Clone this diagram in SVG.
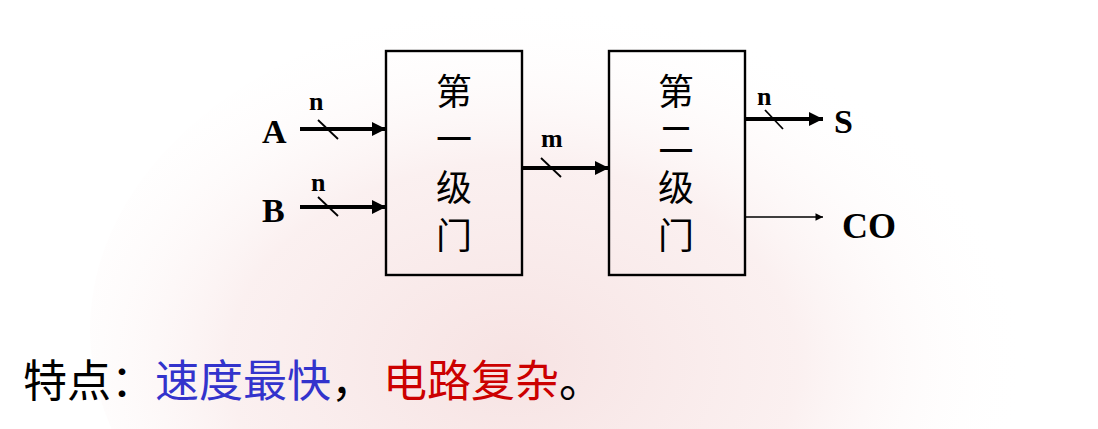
<svg xmlns="http://www.w3.org/2000/svg" width="1098" height="429" viewBox="0 0 1098 429">
<defs>
<radialGradient id="globe" cx="0.45" cy="0.55" r="0.55">
<stop offset="0" stop-color="#f5dede" stop-opacity="0.85"/>
<stop offset="0.55" stop-color="#f8e6e6" stop-opacity="0.6"/>
<stop offset="1" stop-color="#ffffff" stop-opacity="0"/>
</radialGradient>
<marker id="ah" viewBox="0 0 10 10" refX="10" refY="5" markerWidth="3.4" markerHeight="3.4" markerUnits="strokeWidth" orient="auto"><path d="M0,0 L10,5 L0,10 z" fill="#000"/></marker>
<marker id="ahs" viewBox="0 0 10 10" refX="10" refY="5" markerWidth="6.5" markerHeight="5" markerUnits="strokeWidth" orient="auto"><path d="M0,0 L10,5 L0,10 z" fill="#000"/></marker>
</defs>
<style>
.box{fill:none;stroke:#000;stroke-width:2.4}
.cj{font-family:"Noto Sans CJK SC",sans-serif;font-size:36px;fill:#000;writing-mode:tb;letter-spacing:12px}
.lat{font-family:"Liberation Serif",serif;font-weight:bold;fill:#000}
.big{font-size:34px}
.sm{font-size:26px}
.bus{stroke:#000;stroke-width:4.2;fill:none;marker-end:url(#ah)}
.thin{stroke:#000;stroke-width:1.5;fill:none;marker-end:url(#ahs)}
.sl{stroke:#000;stroke-width:1.8}
.bot{font-family:"Noto Sans CJK SC",sans-serif;font-size:44px}
</style>
<rect width="1098" height="429" fill="#fff"/>
<ellipse cx="560" cy="330" rx="470" ry="330" fill="url(#globe)"/>
<g id="gate1">
<rect class="box" x="386" y="51" width="136" height="224"/>
<text class="cj" x="454" y="73">第一级门</text>
</g>
<g id="gate2">
<rect class="box" x="609" y="51" width="136" height="224"/>
<text class="cj" x="676" y="73">第二级门</text>
</g>
<g id="labelA"><text class="lat big" x="262" y="143">A</text></g>
<g id="labelB"><text class="lat big" x="262" y="222">B</text></g>
<g id="labelS"><text class="lat big" x="834" y="133">S</text></g>
<g id="labelCO"><text class="lat" x="842" y="238" font-size="36">CO</text></g>
<g id="connectors">
<line class="bus" x1="300" y1="129" x2="386" y2="129"/>
<line class="sl" x1="318" y1="120" x2="338" y2="139"/>
<text class="lat sm" x="309" y="110">n</text>
<line class="bus" x1="300" y1="207" x2="386" y2="207"/>
<line class="sl" x1="318" y1="197" x2="338" y2="216"/>
<text class="lat sm" x="311" y="191">n</text>
<line class="bus" x1="522" y1="168" x2="609" y2="168"/>
<line class="sl" x1="541" y1="158" x2="561" y2="177"/>
<text class="lat sm" x="541" y="147">m</text>
<line class="bus" x1="745" y1="119" x2="823" y2="119"/>
<line class="sl" x1="765" y1="110" x2="783" y2="129"/>
<text class="lat sm" x="757" y="105">n</text>
<line class="thin" x1="745" y1="217" x2="823" y2="217"/>
</g>
<g id="note">
<text class="bot" x="23" y="397"><tspan fill="#000">特点：</tspan><tspan fill="#3333cc">速度最快</tspan><tspan fill="#000">，</tspan><tspan fill="#cc0000" dx="8">电路复杂</tspan><tspan fill="#000">。</tspan></text>
</g>
</svg>
